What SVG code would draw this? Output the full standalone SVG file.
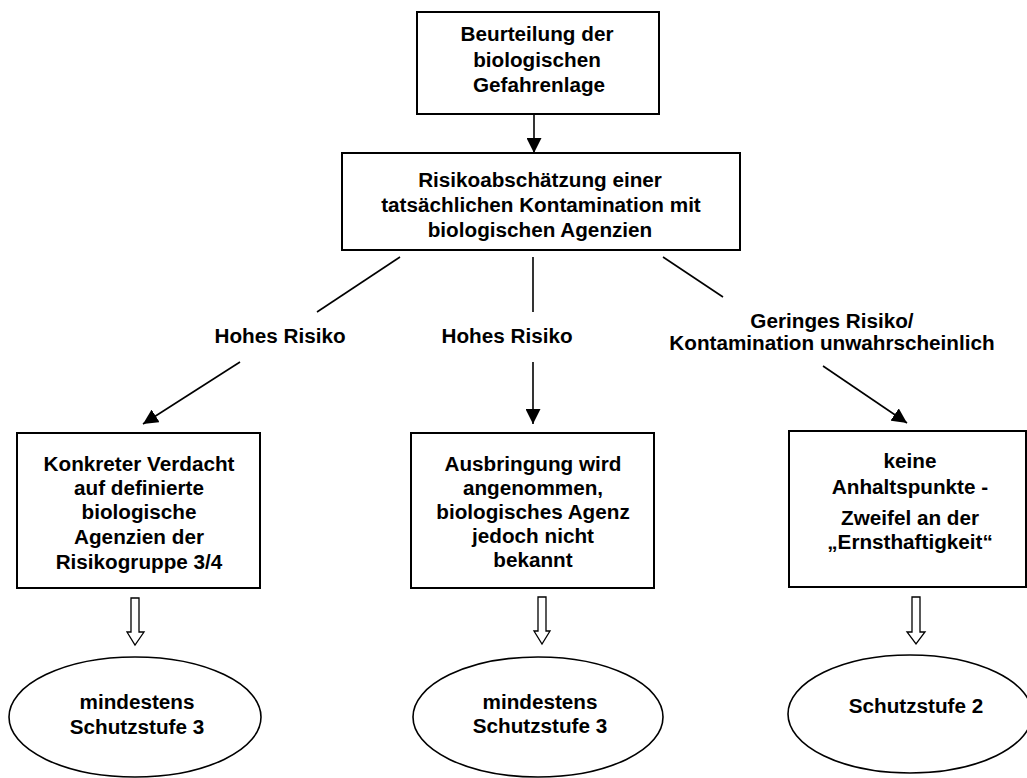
<svg xmlns="http://www.w3.org/2000/svg" width="1027" height="778" viewBox="0 0 1027 778">
<defs>
<marker id="ah" markerUnits="userSpaceOnUse" markerWidth="15" markerHeight="15" refX="15" refY="7.5" orient="auto">
<path d="M0,0 L15,7.5 L0,15 z" fill="#000"/>
</marker>
<style>
.box{fill:#fff;stroke:#000;stroke-width:2}
.ell{fill:#fff;stroke:#000;stroke-width:1.6}
.t{font-family:"Liberation Sans",Arial,sans-serif;font-weight:bold;font-size:20.7px;fill:#000;text-anchor:middle}
.ln{stroke:#000;stroke-width:1.6;fill:none}
.blk{fill:#fff;stroke:#000;stroke-width:1.3}
</style>
</defs>
<rect width="1027" height="778" fill="#fff"/>
<g id="connectors">
<line class="ln" x1="534" y1="115" x2="534" y2="153" marker-end="url(#ah)"/>
<line class="ln" x1="400" y1="257" x2="317" y2="312"/>
<line class="ln" x1="240" y1="362" x2="143" y2="424" marker-end="url(#ah)"/>
<line class="ln" x1="533" y1="257" x2="533" y2="312"/>
<line class="ln" x1="533" y1="362" x2="533" y2="424" marker-end="url(#ah)"/>
<line class="ln" x1="663" y1="257" x2="723" y2="297"/>
<line class="ln" x1="823" y1="366" x2="907" y2="423" marker-end="url(#ah)"/>
<path class="blk" d="M131,598 H139 V632 H144 L135,645 L127,632 H131 Z"/>
<path class="blk" d="M538,597 H546 V631 H550 L542,644 L534,631 H538 Z"/>
<path class="blk" d="M912,597 H920 V632 H925 L916,644 L907,632 H912 Z"/>
</g>
<g id="labels">
<text class="t" x="280" y="343">Hohes Risiko</text>
<text class="t" x="507" y="343">Hohes Risiko</text>
<text class="t" x="832" y="328">Geringes Risiko/</text>
<text class="t" x="832" y="350">Kontamination unwahrscheinlich</text>
</g>
<g id="n1">
<rect class="box" x="417" y="12" width="242" height="102"/>
<text class="t" x="537" y="41">Beurteilung der</text>
<text class="t" x="537" y="67">biologischen</text>
<text class="t" x="539" y="92">Gefahrenlage</text>
</g>
<g id="n2">
<rect class="box" x="342" y="153" width="398" height="97"/>
<text class="t" x="540" y="187">Risikoabschätzung einer</text>
<text class="t" x="541" y="212">tatsächlichen Kontamination mit</text>
<text class="t" x="540" y="237">biologischen Agenzien</text>
</g>
<g id="n3">
<rect class="box" x="17" y="433" width="243" height="155"/>
<text class="t" x="139" y="471">Konkreter Verdacht</text>
<text class="t" x="139" y="495">auf definierte</text>
<text class="t" x="139" y="519">biologische</text>
<text class="t" x="139" y="544">Agenzien der</text>
<text class="t" x="139" y="569">Risikogruppe 3/4</text>
</g>
<g id="n4">
<rect class="box" x="411" y="433" width="243" height="155"/>
<text class="t" x="533" y="471">Ausbringung wird</text>
<text class="t" x="533" y="495">angenommen,</text>
<text class="t" x="533" y="519">biologisches Agenz</text>
<text class="t" x="533" y="543">jedoch nicht</text>
<text class="t" x="533" y="567">bekannt</text>
</g>
<g id="n5">
<rect class="box" x="789" y="431" width="237" height="156"/>
<text class="t" x="910" y="468">keine</text>
<text class="t" x="910" y="494">Anhaltspunkte -</text>
<text class="t" x="910" y="525">Zweifel an der</text>
<text class="t" x="910" y="549">„Ernsthaftigkeit“</text>
</g>
<g id="n6">
<ellipse class="ell" cx="135" cy="717" rx="126" ry="60"/>
<text class="t" x="137" y="709">mindestens</text>
<text class="t" x="137" y="734">Schutzstufe 3</text>
</g>
<g id="n7">
<ellipse class="ell" cx="538" cy="717" rx="125" ry="60"/>
<text class="t" x="540" y="709">mindestens</text>
<text class="t" x="540" y="733">Schutzstufe 3</text>
</g>
<g id="n8">
<ellipse class="ell" cx="910" cy="714" rx="122" ry="59"/>
<text class="t" x="916" y="713">Schutzstufe 2</text>
</g>
</svg>
